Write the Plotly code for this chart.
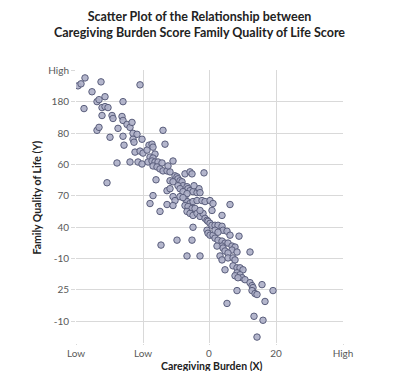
import plotly.graph_objects as go

# Caregiving burden (X) and family quality of life (Y) scores, in axis units
burden = [
    9, 2, 5, 25, 64, 16, 29, 21, 23, 47, 8, 26, 29, 32, 26, 36, 37, 46, 47, 51,
    54, 56, 42, 21, 23, 57, 61, 47, 34, 66, 57, 58, 48, 73, 76, 77, 59, 64, 67, 71,
    79,
    87, 89, 54, 74, 77, 62, 66, 72, 76, 79, 82, 86, 97, 77, 81, 84, 87, 91, 94, 92,
    109, 114, 116, 128, 99, 101, 102, 104, 106, 80, 94, 97, 107, 111, 112, 102, 104, 114, 117, 121,
    123, 124, 77, 97, 99, 109, 111, 114, 117, 121, 126, 129, 134, 74, 91, 97,
    118, 91, 94, 107, 111, 104, 107, 137, 154, 84, 109, 112, 116, 119, 111, 114, 117, 121, 124, 127,
    129, 136, 146, 131, 132, 134, 136, 139, 142, 146, 117, 131, 132, 134, 137, 139, 147, 151, 154, 163,
    101, 116, 142, 146, 149, 152, 156, 159, 146, 147,
    124, 139, 142, 141, 111, 124, 156, 149, 152, 161, 174, 144, 146, 152, 157, 159,
    149, 157, 161, 164, 167, 161, 164, 159, 166, 169, 162, 174, 176, 177, 186, 161, 176, 179, 181, 197,
    151, 189, 178, 187, 181,
    41, 31, 85,
]
quality = [
    268, 260, 262, 264, 261, 254, 249, 244, 246, 244, 237, 238, 239, 238, 230, 230, 227, 229, 225, 221,
    218, 223, 217, 215, 218, 212, 211, 209, 208, 206, 206, 203, 200, 200, 201, 198, 193, 194, 192, 195,
    191,
    215, 201, 183, 188, 187, 183, 181, 183, 184, 183, 183, 182, 184, 179, 178, 176, 174, 174, 173, 179,
    171, 173, 171, 172, 169, 168, 166, 164, 163, 165, 164, 163, 159, 158, 156, 159, 156, 154, 153, 152,
    156, 152, 149, 148, 144, 146, 143, 141, 143, 144, 144, 143, 144, 141, 140, 139,
    159, 154, 156, 153, 151, 148, 147, 141, 140, 133, 139, 138, 136, 136, 133, 131, 129, 131, 128, 131,
    126, 134, 129, 124, 123, 121, 119, 119, 119, 118, 117, 114, 111, 109, 109, 106, 114, 113, 109, 108,
    104, 104, 104, 103, 101, 101, 98, 97, 98, 96,
    134, 114, 112, 98, 88, 88, 94, 93, 91, 92, 92, 88, 84, 86, 86, 84,
    74, 78, 76, 76, 74, 71, 69, 68, 66, 64, 66, 61, 58, 56, 59, 53, 53, 50, 49, 53,
    40, 42, 27, 23, 6,
    182, 162, 99,
]

x_tickvals = [0, 67, 133, 200, 267]
x_ticktext = ["Low", "Low", "0", "20", "High"]
y_tickvals = [22, 54, 85, 117, 149, 180, 212, 244, 276]
y_ticktext = ["-10", "25", "-10", "40", "70", "60", "80", "180", "High"]

FONT = "Lato, 'Open Sans', sans-serif"

fig = go.Figure()
fig.add_trace(go.Scatter(
    x=burden, y=quality, mode="markers",
    marker=dict(size=6.5, color="rgba(172,174,198,0.9)",
                line=dict(color="#5a5e7c", width=1)),
    hoverinfo="skip", showlegend=False,
))

axis_common = dict(
    showgrid=True, gridcolor="#d9d9d9", gridwidth=1,
    zeroline=False, showline=False,
    ticks="outside", tickcolor="#d9d9d9",
    tickfont=dict(family=FONT, size=10, color="#595959"),
    fixedrange=True,
)

fig.update_layout(
    width=379, height=363,
    margin=dict(l=68, r=44, t=62, b=25),
    paper_bgcolor="white", plot_bgcolor="white",
    xaxis=dict(range=[0, 267], tickmode="array", tickvals=x_tickvals,
               ticktext=x_ticktext, ticklen=1, **axis_common),
    yaxis=dict(range=[0, 276], tickmode="array", tickvals=y_tickvals,
               ticktext=y_ticktext, ticklen=4, **axis_common),
    annotations=[
        dict(text="<b>Scatter Plot of the Relationship between<br>"
                  "Caregiving Burden Score Family Quality of Life Score</b>",
             xref="paper", yref="paper", x=0.461, y=1.168,
             xanchor="center", yanchor="middle", showarrow=False,
             font=dict(family=FONT, size=12.5, color="#222222")),
        dict(text="<b>Caregiving Burden (X)</b>",
             xref="paper", yref="paper", x=(212 - 76) / 267, y=(346 - 369) / 276,
             xanchor="center", yanchor="middle", showarrow=False,
             font=dict(family=FONT, size=10.5, color="#222222")),
        dict(text="<b>Family Quality of Life (Y)</b>",
             xref="paper", yref="paper", x=(37 - 76) / 267, y=(346 - 199) / 276,
             xanchor="center", yanchor="middle", showarrow=False, textangle=-90,
             font=dict(family=FONT, size=10.5, color="#222222")),
    ],
)

fig.write_html("out.html")
